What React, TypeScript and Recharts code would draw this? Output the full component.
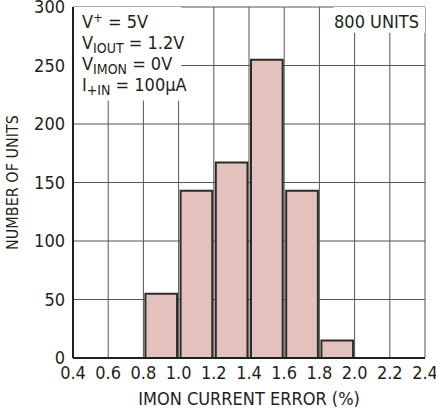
import { BarChart, Bar, XAxis, YAxis, CartesianGrid, ReferenceArea } from 'recharts'

const binCenters = [0.5, 0.7, 0.9, 1.1, 1.3, 1.5, 1.7, 1.9, 2.1, 2.3]
const unitCounts = [0, 0, 55, 143, 167, 255, 143, 15, 0, 0]
const xTicks = [0.4, 0.6, 0.8, 1.0, 1.2, 1.4, 1.6, 1.8, 2.0, 2.2, 2.4]
const yTicks = [0, 50, 100, 150, 200, 250, 300]

const data = binCenters.map((x, i) => ({ x, count: unitCounts[i] }))

const FONT = "'Liberation Sans Narrow', 'DejaVu Sans Condensed', 'Arial Narrow', sans-serif"
const INK = '#231f20'
const GRID = '#555'
const tickStyle = { fontSize: 18, fill: INK, fontFamily: FONT }

const lineStyle = {
  position: 'absolute' as const,
  left: 82,
  fontFamily: FONT,
  fontSize: 18,
  lineHeight: '20px',
  color: INK,
  whiteSpace: 'nowrap' as const,
}
const subStyle = { fontSize: 14, position: 'relative' as const, top: 4 }
const supStyle = { fontSize: 13, position: 'relative' as const, top: -6 }

export default function App() {
  return (
    <div style={{ position: 'absolute', left: 0, top: 0, width: 436, height: 417, background: '#fff' }}>
      <BarChart width={436} height={417} data={data} margin={{ top: 7, right: 11, left: 13, bottom: 29 }}>
        <CartesianGrid stroke={GRID} strokeWidth={1} />
        {/* white boxes behind the notes hide the grid */}
        <ReferenceArea x1={0.4} x2={1.015} y1={220} y2={300} fill="#fff" fillOpacity={1} stroke="none" />
        <ReferenceArea x1={1.88} x2={2.4} y1={278} y2={300} fill="#fff" fillOpacity={1} stroke="none" />
        <XAxis
          dataKey="x"
          type="number"
          domain={[0.4, 2.4]}
          ticks={xTicks}
          tickFormatter={v => Number(v).toFixed(1)}
          tick={tickStyle}
          tickLine={false}
          axisLine={{ stroke: INK, strokeWidth: 2 }}
          height={30}
          interval={0}
          label={{ value: 'IMON CURRENT ERROR (%)', position: 'bottom', offset: 4, style: { fontSize: 18, fill: INK, fontFamily: FONT } }}
        />
        <XAxis xAxisId="top" orientation="top" dataKey="x" type="number" domain={[0.4, 2.4]} height={0} tick={false} tickLine={false} axisLine={{ stroke: INK, strokeWidth: 2 }} />
        <YAxis
          domain={[0, 300]}
          ticks={yTicks}
          tick={tickStyle}
          tickLine={false}
          axisLine={{ stroke: INK, strokeWidth: 2 }}
          width={60}
          interval={0}
          label={{ value: 'NUMBER OF UNITS', angle: -90, position: 'insideLeft', offset: -1, style: { fontSize: 16, fill: INK, fontFamily: FONT, textAnchor: 'middle' } }}
        />
        <YAxis yAxisId="right" orientation="right" domain={[0, 300]} width={0} tick={false} tickLine={false} axisLine={{ stroke: INK, strokeWidth: 2 }} />
        <Bar dataKey="count" barSize={35.2} fill="#e3c1bc" stroke="#2b2b2b" strokeWidth={2} isAnimationActive={false} />
      </BarChart>
      <div style={{ ...lineStyle, top: 12 }}>
        V<span style={supStyle}>+</span> = 5V
      </div>
      <div style={{ ...lineStyle, top: 33 }}>
        V<span style={subStyle}>IOUT</span> = 1.2V
      </div>
      <div style={{ ...lineStyle, top: 54 }}>
        V<span style={subStyle}>IMON</span> = 0V
      </div>
      <div style={{ ...lineStyle, top: 75 }}>
        I<span style={subStyle}>+IN</span> = 100µA
      </div>
      <div style={{ ...lineStyle, left: 'auto', right: 17, top: 12 }}>800 UNITS</div>
    </div>
  )
}
